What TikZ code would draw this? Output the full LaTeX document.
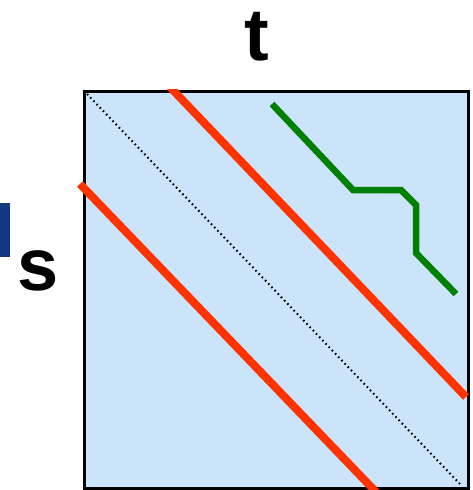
\documentclass[tikz,border=0pt]{standalone}
\usepackage{fontspec}
\setmainfont{Liberation Sans}
\usepackage{tikz}
\usetikzlibrary{calc, positioning}
\usepackage{xcolor}

\definecolor{gridblue}{RGB}{204,228,250}
\definecolor{pathred}{RGB}{255,51,0}
\definecolor{pathgreen}{RGB}{0,128,0}
\definecolor{markblue}{RGB}{20,55,130}

\begin{document}
\begin{tikzpicture}[
	x=1pt, y=-1pt,
	every node/.style={font=\fontsize{74}{80}\selectfont\bfseries, inner sep=0pt},
	matrix box/.style={fill=gridblue, draw=black, line width=3pt},
	diagonal/.style={black, line width=2pt, dash pattern=on 1.6pt off 3pt},
	band/.style={pathred, line width=8pt},
	warp path/.style={pathgreen, line width=6.5pt, line join=miter},
	marker/.style={fill=markblue}
	]
	% =====================================================
	% BOUNDING BOX
	% =====================================================
	\useasboundingbox (0,0) rectangle (473,490);

	% =====================================================
	% KOORDINAT UTAMA
	% =====================================================
	\coordinate (TopLeft) at (84,91);
	\coordinate (BottomRight) at (468,488);

	% =====================================================
	% MATRIKS
	% =====================================================
	\draw[matrix box] (TopLeft) rectangle (BottomRight);
	\draw[diagonal] (87,94) -- (460,484);
	\begin{scope}
		\clip (0,89.5) rectangle (473,490);
		\draw[band] (80,184) -- (376,492);
		\draw[band] (170,87) -- (466,397);
	\end{scope}

	% =====================================================
	% JALUR HIJAU
	% =====================================================
	\draw[warp path] (272,104) -- (353,190) -- (401,190) -- (416,205)
		-- (416,253) -- (456,294);

	% =====================================================
	% LABEL
	% =====================================================
	\node[anchor=base] (tlabel) at (257,60) {t};
	\node[anchor=base] (slabel) at (38,290) {s};
	\fill[marker] (0,203) rectangle (10,257);

\end{tikzpicture}
\end{document}
